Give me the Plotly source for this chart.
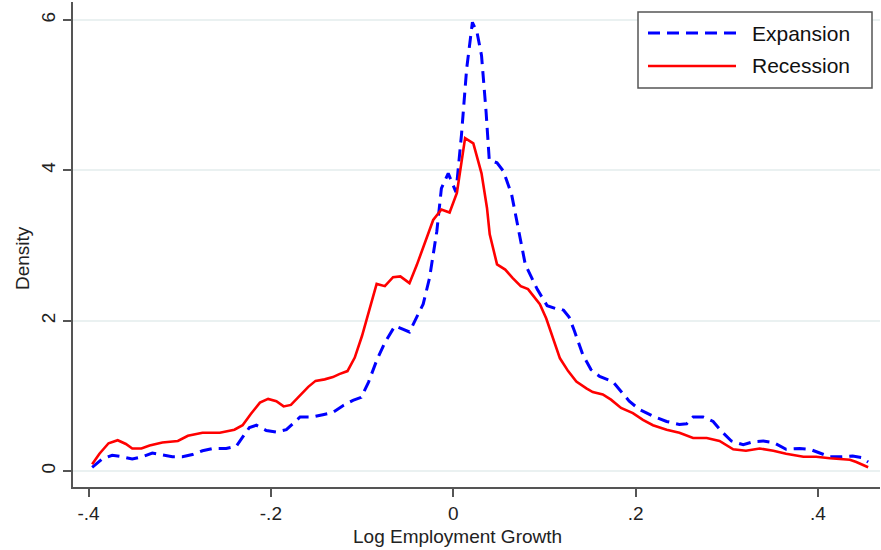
import plotly.graph_objects as go

# kernel density of log employment growth
exp_x = [-0.396, -0.385, -0.374, -0.363, -0.352, -0.341, -0.330, -0.319, -0.308, -0.297,
         -0.286, -0.275, -0.264, -0.249, -0.238, -0.231, -0.2235, -0.216, -0.205, -0.194,
         -0.183, -0.168, -0.154, -0.143, -0.132, -0.121, -0.110, -0.101, -0.093, -0.084,
         -0.075, -0.064, -0.048, -0.038, -0.033, -0.026, -0.018, -0.013, -0.0055, 0.003,
         0.009, 0.0147, 0.021, 0.026, 0.031, 0.036, 0.0395, 0.048, 0.055, 0.064,
         0.071, 0.079, 0.092, 0.103, 0.113, 0.117, 0.121, 0.127, 0.133, 0.142,
         0.151, 0.1605, 0.175, 0.184, 0.193, 0.204, 0.219, 0.234, 0.248, 0.256,
         0.263, 0.274, 0.285, 0.294, 0.305, 0.318, 0.329, 0.340, 0.351, 0.365,
         0.380, 0.391, 0.402, 0.413, 0.424, 0.438, 0.4475, 0.455]
exp_y = [0.05, 0.16, 0.21, 0.19, 0.16, 0.19, 0.24, 0.22, 0.19, 0.19,
         0.22, 0.27, 0.30, 0.30, 0.33, 0.45, 0.58, 0.61, 0.54, 0.52,
         0.55, 0.72, 0.72, 0.75, 0.78, 0.87, 0.94, 0.98, 1.18, 1.47,
         1.71, 1.93, 1.85, 2.10, 2.22, 2.57, 3.19, 3.76, 3.96, 3.71,
         4.47, 5.35, 5.97, 5.84, 5.53, 4.78, 4.14, 4.10, 3.99, 3.68,
         3.23, 2.75, 2.42, 2.20, 2.16, 2.16, 2.14, 2.05, 1.86, 1.55,
         1.35, 1.26, 1.19, 1.06, 0.93, 0.82, 0.73, 0.66, 0.62, 0.63,
         0.72, 0.72, 0.66, 0.53, 0.40, 0.35, 0.39, 0.40, 0.38, 0.29,
         0.30, 0.29, 0.24, 0.19, 0.19, 0.20, 0.18, 0.12]

rec_x = [-0.396, -0.388, -0.378, -0.368, -0.359, -0.352, -0.342, -0.333, -0.319, -0.302,
         -0.291, -0.275, -0.256, -0.240, -0.231, -0.222, -0.212, -0.203, -0.194, -0.186,
         -0.178, -0.168, -0.159, -0.151, -0.141, -0.132, -0.125, -0.116, -0.108, -0.100,
         -0.093, -0.084, -0.075, -0.066, -0.058, -0.048, -0.040, -0.031, -0.022, -0.013,
         -0.004, 0.004, 0.013, 0.022, 0.031, 0.037, 0.040, 0.048, 0.057, 0.065,
         0.074, 0.082, 0.0915, 0.095, 0.102, 0.109, 0.117, 0.126, 0.135, 0.146,
         0.153, 0.164, 0.173, 0.184, 0.197, 0.208, 0.219, 0.234, 0.248, 0.263,
         0.278, 0.292, 0.307, 0.321, 0.336, 0.351, 0.365, 0.384, 0.398, 0.413,
         0.435, 0.442, 0.455]
rec_y = [0.09, 0.23, 0.37, 0.41, 0.36, 0.30, 0.30, 0.34, 0.38, 0.40,
         0.47, 0.51, 0.51, 0.55, 0.61, 0.76, 0.91, 0.96, 0.93, 0.86,
         0.88, 1.00, 1.12, 1.20, 1.22, 1.25, 1.29, 1.33, 1.51, 1.80,
         2.09, 2.49, 2.46, 2.58, 2.59, 2.50, 2.74, 3.04, 3.34, 3.48,
         3.44, 3.70, 4.43, 4.36, 3.96, 3.50, 3.15, 2.75, 2.68, 2.57,
         2.46, 2.42, 2.28, 2.22, 2.03, 1.77, 1.50, 1.33, 1.19, 1.10,
         1.05, 1.02, 0.95, 0.84, 0.77, 0.68, 0.61, 0.55, 0.51, 0.44,
         0.44, 0.40, 0.29, 0.27, 0.30, 0.27, 0.23, 0.19, 0.19, 0.17,
         0.15, 0.12, 0.05]

xticks = [-0.4, -0.2, 0, 0.2, 0.4]
xtick_labels = ["-.4", "-.2", "0", ".2", ".4"]
yticks = [0, 2, 4, 6]
series_names = ["Expansion", "Recession"]
x_title = "Log Employment Growth"
y_title = "Density"

W, H = 881, 550
L, R, T, B = 73, 1, 2, 63
FONT = "Liberation Sans, Arial, sans-serif"

fig = go.Figure()
fig.add_trace(go.Scatter(x=exp_x, y=exp_y, mode="lines", name=series_names[0],
                         line=dict(color="#0000ff", width=3, dash="12px,7px"),
                         showlegend=False))
fig.add_trace(go.Scatter(x=rec_x, y=rec_y, mode="lines", name=series_names[1],
                         line=dict(color="#ff0000", width=2.6),
                         showlegend=False))

# helpers: page pixel -> paper coords
pw, ph = W - L - R, H - T - B
def px(x):
    return (x - L) / pw
def py(y):
    return (H - B - y) / ph

# legend box drawn by hand so it keeps the long Stata-style line keys
fig.add_shape(type="rect", xref="paper", yref="paper",
              x0=px(638), x1=px(872), y0=py(88), y1=py(12),
              line=dict(color="#555555", width=1.5), fillcolor="white", layer="above")
fig.add_shape(type="line", xref="paper", yref="paper",
              x0=px(648), x1=px(736), y0=py(33), y1=py(33),
              line=dict(color="#0000ff", width=3, dash="12px,7px"), layer="above")
fig.add_shape(type="line", xref="paper", yref="paper",
              x0=px(648), x1=px(736), y0=py(66), y1=py(66),
              line=dict(color="#ff0000", width=2.6), layer="above")
for name, yy in zip(series_names, [33, 66]):
    fig.add_annotation(x=px(750), y=py(yy), xref="paper", yref="paper",
                       text=name, showarrow=False, xanchor="left", yanchor="middle",
                       font=dict(family=FONT, size=21, color="#111111"))

# axis titles (Stata centres them a little left of the plot centre)
fig.add_annotation(x=px(457), y=py(536), xref="paper", yref="paper",
                   text=x_title, showarrow=False, xanchor="center", yanchor="middle",
                   font=dict(family=FONT, size=19, color="#222222"))
fig.add_annotation(x=px(22), y=py(258), xref="paper", yref="paper",
                   text=y_title, showarrow=False, textangle=-90,
                   xanchor="center", yanchor="middle",
                   font=dict(family=FONT, size=19, color="#222222"))

fig.update_layout(
    width=W, height=H,
    margin=dict(l=L, r=R, t=T, b=B, autoexpand=False),
    paper_bgcolor="white", plot_bgcolor="white",
    font=dict(family=FONT, size=18, color="#222222"),
    xaxis=dict(range=[-0.417, 0.468], tickvals=xticks, ticktext=xtick_labels,
               automargin=False, showgrid=False, zeroline=False,
               showline=True, linecolor="#555555", linewidth=2,
               ticks="outside", ticklen=8, tickwidth=1.5, tickcolor="#555555",
               tickfont=dict(size=19)),
    yaxis=dict(range=[-0.212, 6.24], tickvals=yticks, tickangle=-90,
               automargin=False, showgrid=True, gridcolor="#eaf1f1", gridwidth=1.5,
               zeroline=False,
               showline=True, linecolor="#555555", linewidth=2,
               ticks="outside", ticklen=8, tickwidth=1.5, tickcolor="#555555",
               tickfont=dict(size=19)),
)

# the page's default body margin would push the figure 8px off; remove it
fig.write_html("out.html", config={"displayModeBar": False},
               post_script="document.body.style.margin='0';")
